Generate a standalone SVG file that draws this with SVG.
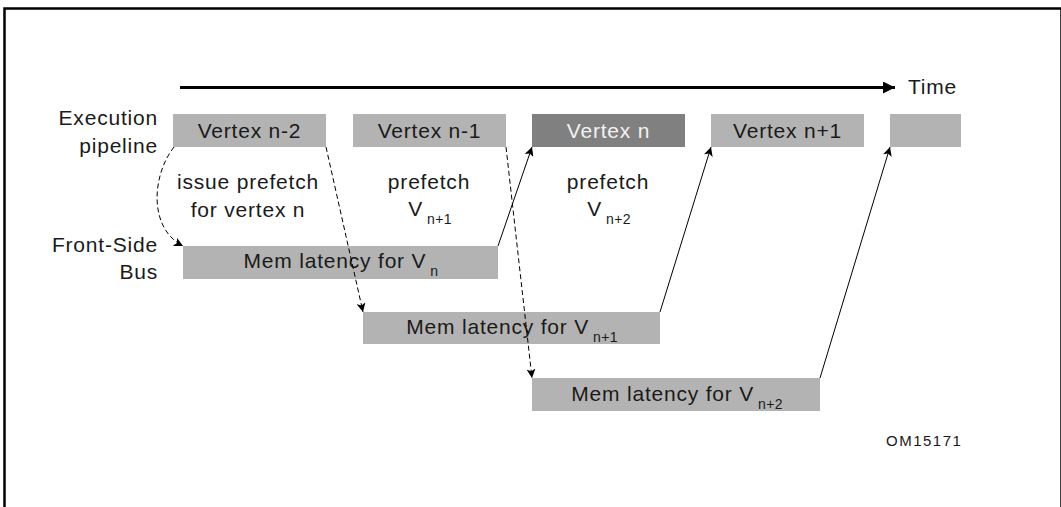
<svg xmlns="http://www.w3.org/2000/svg" width="1061" height="507" viewBox="0 0 1061 507">
<defs>
<style>
.t{font-family:"Liberation Sans",Arial,sans-serif;font-size:21px;letter-spacing:0.8px;fill:#1a1a1a}
.c{text-anchor:middle}
.e{text-anchor:end}
.sub{font-size:14px;letter-spacing:0.3px}
.box{fill:#b3b3b3}
.dark{fill:#808080}
.w{fill:#f2f2f2}
.sol{fill:none;stroke:#000;stroke-width:1}
.dsh{fill:none;stroke:#000;stroke-width:1;stroke-dasharray:5,3}
</style>
<marker id="ah" viewBox="0 0 10 10" refX="10" refY="5" markerWidth="10" markerHeight="9" markerUnits="userSpaceOnUse" orient="auto">
<path d="M0,0 L10,5 L0,10 L2.5,5 Z" fill="#000"/>
</marker>
<marker id="th" viewBox="0 0 10 10" refX="10" refY="5" markerWidth="14" markerHeight="12" markerUnits="userSpaceOnUse" orient="auto">
<path d="M0,0 L10,5 L0,10 Z" fill="#000"/>
</marker>
</defs>
<rect x="0" y="0" width="1061" height="507" fill="#fff"/>
<rect x="4.5" y="8.5" width="1057" height="510" fill="none" stroke="#000" stroke-width="2.5"/>

<g id="time-axis">
<line x1="180" y1="87.5" x2="895" y2="87.5" stroke="#000" stroke-width="3" marker-end="url(#th)"/>
<text class="t" x="908" y="94">Time</text>
</g>

<g id="labels">
<text class="t e" x="158" y="125">Execution</text>
<text class="t e" x="158" y="153">pipeline</text>
<text class="t e" x="158" y="252">Front-Side</text>
<text class="t e" x="158" y="279">Bus</text>
<text class="t c" x="248" y="189">issue prefetch</text>
<text class="t c" x="248" y="217">for vertex n</text>
<text class="t c" x="429" y="189">prefetch</text>
<text class="t c" x="430" y="216">V<tspan class="sub" dx="4" dy="8">n+1</tspan></text>
<text class="t c" x="608" y="189">prefetch</text>
<text class="t c" x="609" y="216">V<tspan class="sub" dx="4" dy="8">n+2</tspan></text>
<text class="t" x="886" y="446" style="font-size:15px;letter-spacing:1.5px">OM15171</text>
</g>

<g id="vertex-n-2">
<rect class="box" x="173" y="114" width="153" height="33"/>
<text class="t c" x="249.5" y="138">Vertex n-2</text>
</g>
<g id="vertex-n-1">
<rect class="box" x="353" y="114" width="153" height="33"/>
<text class="t c" x="429.5" y="138">Vertex n-1</text>
</g>
<g id="vertex-n">
<rect class="dark" x="532" y="114" width="153" height="33"/>
<text class="t c w" x="608.5" y="138">Vertex n</text>
</g>
<g id="vertex-n+1">
<rect class="box" x="711" y="114" width="153" height="33"/>
<text class="t c" x="787.5" y="138">Vertex n+1</text>
</g>
<g id="vertex-n+2">
<rect class="box" x="890" y="114" width="71" height="33"/>
</g>

<g id="mem-vn">
<rect class="box" x="183" y="246" width="315" height="33"/>
<text class="t c" x="341" y="268">Mem latency for V<tspan class="sub" dx="4" dy="8">n</tspan></text>
</g>
<g id="mem-vn1">
<rect class="box" x="363" y="312" width="297" height="32"/>
<text class="t c" x="512" y="334">Mem latency for V<tspan class="sub" dx="4" dy="8">n+1</tspan></text>
</g>
<g id="mem-vn2">
<rect class="box" x="532" y="378" width="288" height="33"/>
<text class="t c" x="677" y="401">Mem latency for V<tspan class="sub" dx="4" dy="8">n+2</tspan></text>
</g>

<g id="connectors">
<path class="dsh" d="M174,147 C152,175 148,228 183,246" marker-end="url(#ah)"/>
<path class="dsh" d="M326,147 L363,312" marker-end="url(#ah)"/>
<path class="dsh" d="M506,147 L532,378" marker-end="url(#ah)"/>
<path class="sol" d="M498,246 L532,147" marker-end="url(#ah)"/>
<path class="sol" d="M660,312 L711,147" marker-end="url(#ah)"/>
<path class="sol" d="M820,378 L890,147" marker-end="url(#ah)"/>
</g>
</svg>
